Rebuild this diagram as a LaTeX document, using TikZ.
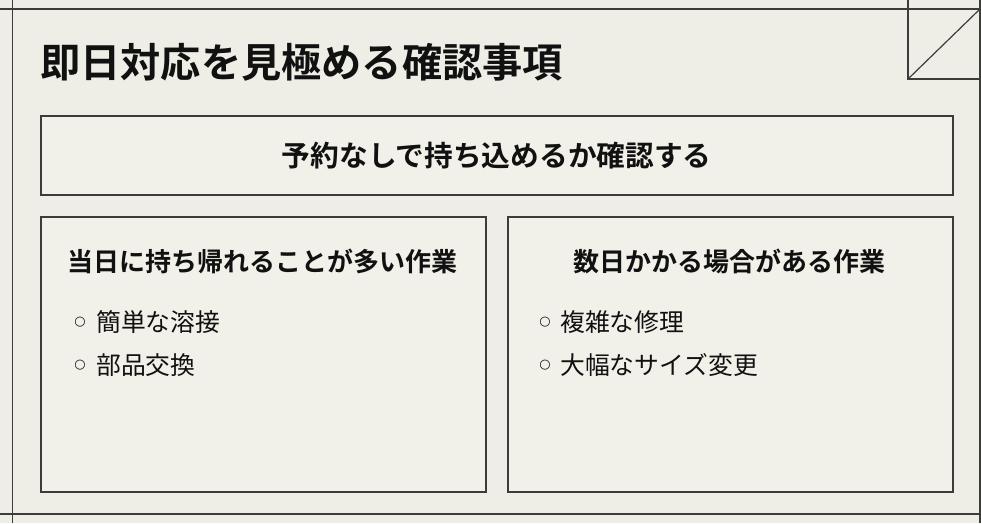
\documentclass[tikz,border=0pt]{standalone}
\usepackage{fontspec}
\newfontfamily\cjk{Noto Sans CJK JP}
\newfontfamily\cjkb{Noto Sans CJK JP Bold}
\newfontfamily\dv{DejaVu Sans}
\definecolor{bg}{HTML}{EFEEE6}
\definecolor{boxfill}{HTML}{F1F0E9}
\definecolor{ln}{HTML}{3C3C3A}
\definecolor{txt}{HTML}{111111}
\begin{document}
\begin{tikzpicture}[x=1pt,y=-1pt,
  frame/.style={draw=ln,line width=1.2pt},
  card/.style={draw=ln,line width=1.5pt,fill=boxfill,inner sep=0pt,anchor=north west},
  ttl/.style={font=\cjkb\fontsize{40.2}{40}\selectfont,text=txt,inner sep=0pt},
  head/.style={font=\cjkb\fontsize{28.7}{28}\selectfont,text=txt,inner sep=0pt},
  sub/.style={font=\cjkb\fontsize{26}{26}\selectfont,text=txt,inner sep=0pt},
  item/.style={font=\cjk\fontsize{24.8}{24.8}\selectfont,text=txt,inner sep=0pt,anchor=west},
  bul/.style={font=\dv\fontsize{13}{13}\selectfont,text=txt,inner sep=0pt,anchor=center}]
\fill[bg] (0,0) rectangle (981,523);
\useasboundingbox (0,0) rectangle (981,523);
% frame lines
\coordinate (tl) at (0,9); \coordinate (tr) at (981,9);
\coordinate (bl) at (0,514); \coordinate (br) at (981,514);
\coordinate (lt) at (12.5,0); \coordinate (lb) at (12.5,523);
\coordinate (rt) at (980,0); \coordinate (rb) at (980,523);
\coordinate (ct) at (908,0); \coordinate (cb) at (908,79); \coordinate (cr) at (981,79);
\coordinate (cd) at (980,9);
\draw[frame] (tl) -- (tr);
\draw[frame] (bl) -- (br);
\draw[frame] (lt) -- (lb);
\draw[frame] (rt) -- (rb);
\draw[frame] (ct) -- (cb) -- (cr);
\draw[frame] (cb) -- (cd);
% title
\node[ttl,anchor=west] (title) at (40,62) {即日対応を見極める確認事項};
% boxes
\node[card,minimum width=912pt,minimum height=79pt] (top) at (40,115) {};
\node[head] (toptext) at (top.center) {予約なしで持ち込めるか確認する};
\node[card,minimum width=445pt,minimum height=275pt] (left) at (40,216) {};
\node[card,minimum width=445pt,minimum height=275pt] (right) at (507,216) {};
\node[sub] (lh) at (262.5,261) {当日に持ち帰れることが多い作業};
\node[sub] (rh) at (729.5,261) {数日かかる場合がある作業};
% items
\node[bul] (lb1) at (80,322) {○};
\node[item] (li1) at (96,322) {簡単な溶接};
\node[bul] (lb2) at (80,365) {○};
\node[item] (li2) at (96,365) {部品交換};
\node[bul] (rb1) at (545,322) {○};
\node[item] (ri1) at (560,322) {複雑な修理};
\node[bul] (rb2) at (545,365) {○};
\node[item] (ri2) at (560,365) {大幅なサイズ変更};
\end{tikzpicture}
\end{document}
